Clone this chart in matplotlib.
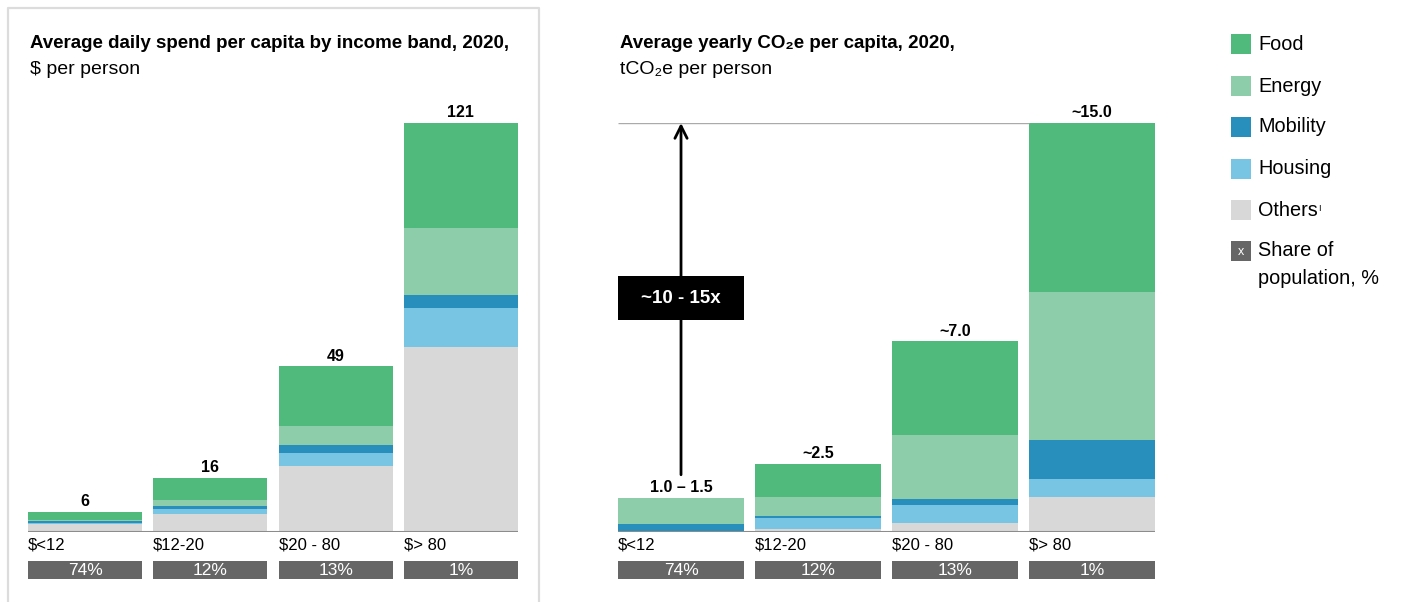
import numpy as np
import matplotlib.pyplot as plt
from matplotlib.patches import Rectangle
from matplotlib.lines import Line2D
from matplotlib.transforms import blended_transform_factory

plt.rcParams['font.family'] = ['Liberation Sans', 'DejaVu Sans']

bands = ['$<12', '$12-20', '$20 - 80', '$> 80']
population_share = ['74%', '12%', '13%', '1%']
categories = ['Food', 'Energy', 'Mobility', 'Housing', 'Others']

# average daily spend, $ per person
spend_food = [2.4, 6.4, 17.6, 31.2]
spend_energy = [0.4, 2.0, 5.8, 19.8]
spend_mobility = [0.4, 0.9, 2.2, 3.8]
spend_housing = [0.5, 1.5, 3.9, 11.5]
spend_others = [2.3, 5.2, 19.5, 54.7]
spend_labels = ['6', '16', '49', '121']

# average yearly footprint, tCO2e per person
co2_food = [0.0, 1.2, 3.44, 6.2]
co2_energy = [0.95, 0.7, 2.35, 5.44]
co2_mobility = [0.3, 0.08, 0.22, 1.4]
co2_housing = [0.0, 0.42, 0.66, 0.66]
co2_others = [0.0, 0.1, 0.33, 1.3]
co2_labels = ['1.0 – 1.5', '~2.5', '~7.0', '~15.0']
multiple_label = '~10 - 15x'

colors = {'Food': '#4FBA7B', 'Energy': '#8ECDAA', 'Mobility': '#288FBC',
          'Housing': '#77C5E3', 'Others': '#D8D8D8'}
share_color = '#666666'

W, H = 1402, 602


def box(x0, y0, x1, y1):
    # pixel box measured from the top-left corner -> figure fraction rect
    return [x0 / W, 1 - y1 / H, (x1 - x0) / W, (y1 - y0) / H]


def draw_panel(ax, layers, labels, width, axis_h):
    x = np.arange(len(bands))
    bottom = np.zeros(len(bands))
    # stack from the bottom up: others, housing, mobility, energy, food
    for name in reversed(categories):
        vals = np.array(layers[name])
        ax.bar(x, vals, width, bottom=bottom, color=colors[name], linewidth=0)
        bottom += vals
    for i, lab in enumerate(labels):
        ax.annotate(lab, xy=(i, bottom[i]), xytext=(0, 4), textcoords='offset points',
                    ha='center', va='baseline', fontsize=11.5, fontweight='bold')
    ax.axhline(0, color='#8C8C8C', lw=2.2, zorder=5)

    trans = blended_transform_factory(ax.transData, ax.transAxes)
    for i in x:
        ax.text(i - width / 2, -13 / axis_h, bands[i], transform=trans,
                ha='left', va='center', fontsize=12)
        ax.add_patch(Rectangle((i - width / 2, -47 / axis_h), width, 18 / axis_h,
                               transform=trans, color=share_color, lw=0, clip_on=False))
        ax.text(i, -38.5 / axis_h, population_share[i], transform=trans,
                ha='center', va='center', color='white', fontsize=12.5)

    ax.set_xlim(-0.5 * width, len(bands) - 1 + 0.5 * width)
    ax.set_ylim(0, bottom.max())
    ax.axis('off')
    return bottom


fig = plt.figure(figsize=(W / 100, H / 100), dpi=100)

# framed left panel
fig.add_artist(Line2D([8 / W, 8 / W, 539 / W, 539 / W], [-0.01, 1 - 8 / H, 1 - 8 / H, -0.01],
                      transform=fig.transFigure, color='#DCDCDC', lw=1.6))

ax1 = fig.add_axes(box(28, 123, 518, 532))
spend = {'Food': spend_food, 'Energy': spend_energy, 'Mobility': spend_mobility,
         'Housing': spend_housing, 'Others': spend_others}
draw_panel(ax1, spend, spend_labels, 0.912, 409)

ax2 = fig.add_axes(box(618, 123, 1155, 532))
co2 = {'Food': co2_food, 'Energy': co2_energy, 'Mobility': co2_mobility,
       'Housing': co2_housing, 'Others': co2_others}
w2 = 0.92
totals = draw_panel(ax2, co2, co2_labels, w2, 409)

# reference line at the top bar and the multiple arrow
top = totals.max()
ax2.hlines(top, -w2 / 2, len(bands) - 1 - w2 / 2, color='#AAAAAA', lw=1)
ax2.annotate('', xy=(0, top), xytext=(0, 2.1),
             arrowprops=dict(arrowstyle='->', lw=2, color='black',
                             shrinkA=0, shrinkB=0, mutation_scale=22))
t2 = blended_transform_factory(ax2.transData, ax2.transAxes)
ax2.add_patch(Rectangle((-w2 / 2, (532 - 320) / 409), w2, 44 / 409, transform=t2,
                        color='black', lw=0, zorder=6))
ax2.text(0, (532 - 298) / 409, multiple_label, transform=t2, ha='center', va='center',
         color='white', fontsize=13.5, fontweight='bold', zorder=7)

# titles
fig.text(30 / W, 1 - 43 / H, 'Average daily spend per capita by income band, 2020,',
         fontsize=13.5, fontweight='bold', va='center')
fig.text(30 / W, 1 - 70 / H, '$ per person', fontsize=14, va='center')
fig.text(620 / W, 1 - 43 / H, 'Average yearly CO₂e per capita, 2020,',
         fontsize=13.5, fontweight='bold', va='center')
fig.text(620 / W, 1 - 70 / H, 'tCO₂e per person', fontsize=14, va='center')

# legend
leg_y = [44, 86, 127, 169, 210, 251]
for name, y in zip(categories, leg_y):
    fig.add_artist(Rectangle((1231 / W, 1 - (y + 10) / H), 20 / W, 20 / H,
                             transform=fig.transFigure, color=colors[name], lw=0))
    t = fig.text(1258 / W, 1 - y / H, name, fontsize=14.3, va='center')
    if name == 'Others':
        ax2.annotate('I', xy=(1, 1), xycoords=t, xytext=(0, -2.5), textcoords='offset points',
                     fontsize=6.5, va='top', ha='left', annotation_clip=False)
y = leg_y[-1]
fig.add_artist(Rectangle((1231 / W, 1 - (y + 10) / H), 20 / W, 20 / H,
                         transform=fig.transFigure, color=share_color, lw=0))
fig.text(1241 / W, 1 - (y + 1) / H, 'x', fontsize=9, color='white', ha='center', va='center')
fig.text(1258 / W, 1 - y / H, 'Share of', fontsize=14.3, va='center')
fig.text(1258 / W, 1 - (y + 28) / H, 'population, %', fontsize=14.3, va='center')

fig.savefig('out.png', dpi=100)
